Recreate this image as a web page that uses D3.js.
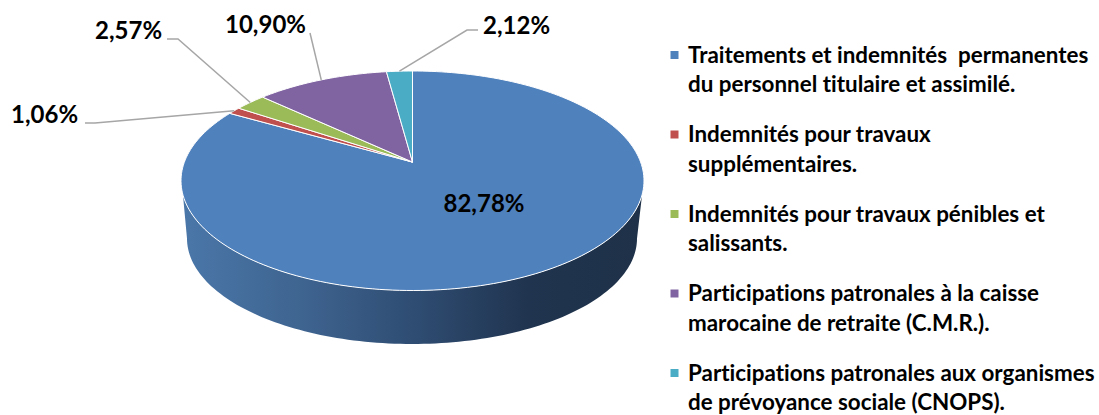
<!DOCTYPE html>
<html>
<head>
<meta charset="utf-8">
<script src="https://cdnjs.cloudflare.com/ajax/libs/d3/7.8.5/d3.min.js"></script>
<style>
  html, body { margin: 0; padding: 0; background: #fff; }
  svg { display: block; }
  text { font-family: Lato, "Open Sans", sans-serif; font-weight: 700; fill: #000; white-space: pre; font-variant-ligatures: none; }
</style>
</head>
<body>
<svg id="chart" width="1099" height="415"></svg>
<script>
// data //
const categories = [
    ['Traitements et indemnités  permanentes', 'du personnel titulaire et assimilé.'],
    ['Indemnités pour travaux', 'supplémentaires.'],
    ['Indemnités pour travaux pénibles et', 'salissants.'],
    ['Participations patronales à la caisse', 'marocaine de retraite (C.M.R.).'],
    ['Participations patronales aux organismes', 'de prévoyance sociale (CNOPS).']
]
const values = [82.78, 1.06, 2.57, 10.90, 2.12]
const valueLabels = ['82,78%', '1,06%', '2,57%', '10,90%', '2,12%']
const colors = ['#4f81bd', '#c0504d', '#9bbb59', '#8064a2', '#4bacc6']

const svg = d3.select('#chart')

// scales: unit disc to screen, top face and foot of the wall //
const xTop = d3.scaleLinear().domain([-1, 1]).range([181, 644])
const yTop = d3.scaleLinear().domain([-1, 1]).range([290.5, 71])
const xFoot = d3.scaleLinear().domain([-1, 1]).range([187, 637])
const yFoot = d3.scaleLinear().domain([-1, 1]).range([344, 133])

// the tilt pushes the pie centre up the ellipse
const tilt = 0.17
function project(angle, r) {
    // clockwise from 12 o'clock, as d3.pie gives it
    const u = r * Math.sin(angle)
    const v = r * Math.cos(angle)
    const k = 1 + tilt * v
    return [xTop(u * Math.sqrt(1 - tilt * tilt) / k), yTop((v + tilt) / k)]
}

const pie = d3.pie().sort(null).value(d => d)
const arcs = pie(values)
const line = d3.line()

// wall //
const wallGrad = svg.append('defs').append('linearGradient')
    .attr('id', 'wall')
    .attr('gradientUnits', 'userSpaceOnUse')
    .attr('x1', 181).attr('x2', 644).attr('y1', 0).attr('y2', 0)
const wallStops = [[0, '#4a77a9'], [0.25, '#3f6591'], [0.5, '#2f4d73'], [0.75, '#20344f'], [1, '#1e3148']]
wallStops.forEach(s => wallGrad.append('stop').attr('offset', s[0]).attr('stop-color', s[1]))

// top rim from right to left under the pie, then back along the foot
const start = Math.PI / 2 + 0.13
const rimAngles = d3.range(0, 121).map(i => start + (2 * Math.PI - 2 * start) * i / 120)
const footAngles = d3.range(0, 121).map(i => 3 * Math.PI / 2 - Math.PI * i / 120)
const wallPoints = rimAngles.map(a => [xTop(Math.sin(a)), yTop(Math.cos(a))])
    .concat(footAngles.map(a => [xFoot(Math.sin(a)), yFoot(Math.cos(a))]))
svg.append('path')
    .attr('d', line(wallPoints) + 'Z')
    .attr('fill', 'url(#wall)')

// top face //
function slicePath(d) {
    const n = Math.max(4, Math.ceil((d.endAngle - d.startAngle) * 40))
    const pts = [project(0, 0)]
    d3.range(0, n + 1).forEach(i => {
        pts.push(project(d.startAngle + (d.endAngle - d.startAngle) * i / n, 1))
    })
    return line(pts) + 'Z'
}

svg.append('g')
    .selectAll('path')
    .data(arcs)
    .join('path')
    .attr('d', slicePath)
    .attr('fill', (d, i) => colors[i])
    .attr('stroke', '#fff')
    .attr('stroke-width', 1)
    .attr('stroke-linejoin', 'round')

// leader lines //
const leaders = [
    { i: 1, x: 11, y: 115, lineX: 85, elbowX: 95, lineY: 123 },
    { i: 2, x: 95, y: 31, lineX: 167, elbowX: 178, lineY: 39 },
    { i: 3, x: 225, y: 25, lineX: 310, elbowX: 310, lineY: 33 },
    { i: 4, x: 483, y: 26, lineX: 478, elbowX: 467, lineY: 30 }
]

leaders.forEach(l => {
    const d = arcs[l.i]
    const end = project((d.startAngle + d.endAngle) / 2, 1)
    svg.append('path')
        .attr('d', line([[l.lineX, l.lineY], [l.elbowX, l.lineY], end]))
        .attr('fill', 'none')
        .attr('stroke', '#a6a6a6')
        .attr('stroke-width', 1.5)
    svg.append('text')
        .attr('x', l.x)
        .attr('y', l.y)
        .attr('dy', '0.35em')
        .attr('font-size', 24)
        .text(valueLabels[l.i])
})

svg.append('text')
    .attr('x', 484)
    .attr('y', 204)
    .attr('dy', '0.35em')
    .attr('text-anchor', 'middle')
    .attr('font-size', 24)
    .text(valueLabels[0])

// legend //
const legendY = d3.scalePoint().domain(d3.range(categories.length)).range([55, 373])
const legend = svg.append('g')
    .selectAll('g')
    .data(categories)
    .join('g')
    .attr('transform', (d, i) => `translate(0, ${legendY(i)})`)

legend.append('rect')
    .attr('x', 670.5)
    .attr('y', -4)
    .attr('width', 8)
    .attr('height', 8)
    .attr('fill', (d, i) => colors[i])

legend.selectAll('text')
    .data(d => d)
    .join('text')
    .attr('x', 688)
    .attr('y', (d, i) => i * 29.5)
    .attr('dy', '0.35em')
    .attr('font-size', 22.4)
    .text(d => d)
</script>
</body>
</html>
